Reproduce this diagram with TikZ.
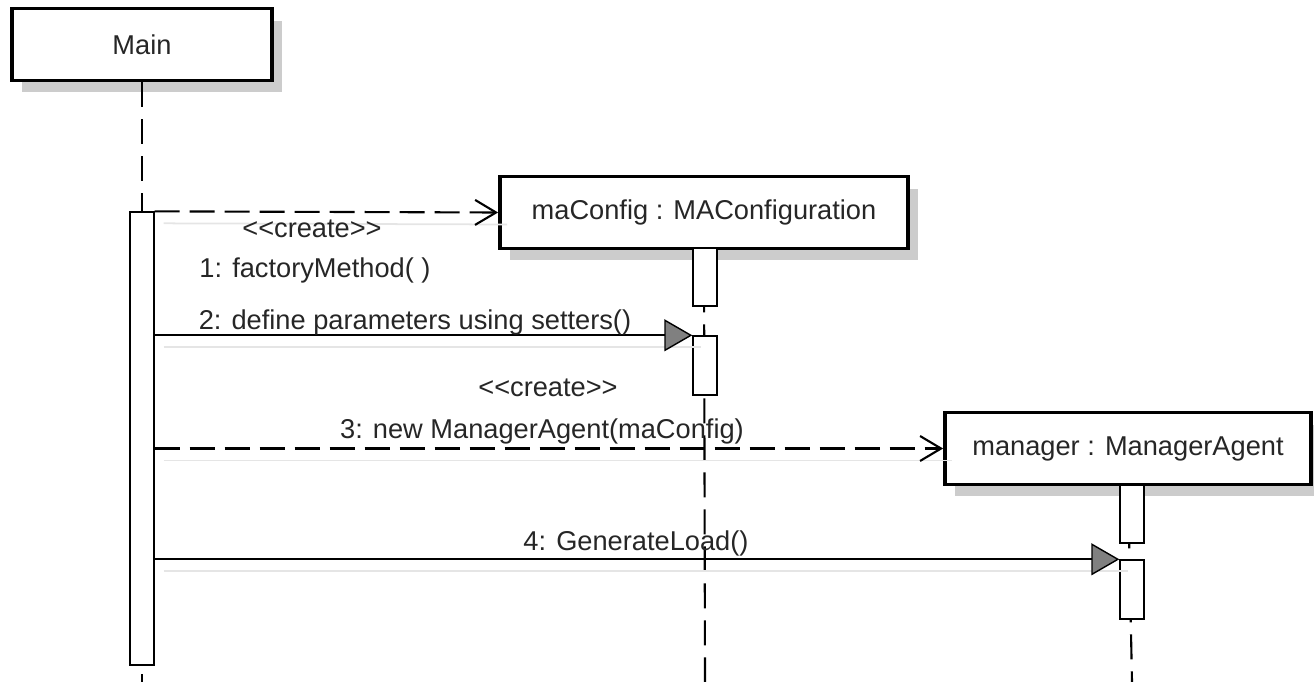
\documentclass[tikz,border=0pt]{standalone}
\usepackage{fontspec}
\setmainfont{Liberation Sans}
\usetikzlibrary{arrows.meta,shadows}
\tikzset{
  objbox/.style={draw, line width=2.2pt, fill=white, minimum height=1.44cm, inner sep=0pt,
    drop shadow={shadow xshift=0.2cm, shadow yshift=-0.24cm, fill=black!20, opacity=1}},
  act/.style={draw, line width=0.8pt, fill=white, minimum width=0.48cm, inner sep=0pt},
  lifeline/.style={line width=1.2pt, dash pattern=on 0.5cm off 0.24cm},
  msgshadow/.style={preaction={draw=black!10, line width=1pt, solid, -, transform canvas={shift={(0.18cm,-0.24cm)}}}},
  create/.style={msgshadow, line width=1.2pt, dash pattern=on 0.5cm off 0.2cm,
    -{Straight Barb[length=0.42cm, width=0.5cm]}},
  call/.style={msgshadow, line width=1pt,
    -{Triangle[length=0.56cm, width=0.64cm, fill=black!50, line width=0.8pt]}},
  lbl/.style={text=black!85}
}
\newcommand{\stereo}[1]{<\kern0pt<#1>\kern0pt>}
\begin{document}
\begin{tikzpicture}[x=0.02cm, y=-0.02cm, font=\fontsize{15.5}{18}\selectfont]
\useasboundingbox (0,0) rectangle (1314,682);
\clip (0,0) rectangle (1314,682);

% objects
\node[objbox, minimum width=5.2cm, lbl] (main) at (142,44.5) {Main};
\node[objbox, minimum width=8.16cm, lbl] (cfg) at (704,212.5) {maConfig : MAConfiguration};
\node[objbox, minimum width=7.32cm, lbl] (mgr) at (1128,448.5) {manager : ManagerAgent};

% lifelines
\coordinate (mainend) at (142,682);
\coordinate (cfgend) at (705,682);
\coordinate (mgrend) at (1132,682);
\draw[lifeline] (main.south) -- (mainend);
\draw[lifeline] (cfg.south) -- (cfgend);
\draw[lifeline] (mgr.south) -- (mgrend);

% activations
\node[act, minimum height=9.06cm] (mainact) at (142,438.5) {};
\node[act, minimum height=1.16cm] (cfgact1) at (705,277) {};
\node[act, minimum height=1.18cm] (cfgact2) at (705,365.5) {};
\node[act, minimum height=1.16cm] (mgract1) at (1132,514) {};
\node[act, minimum height=1.18cm] (mgract2) at (1132,589.5) {};

% messages
\draw[create] (mainact.north east) -- (cfg.west);
\draw[call] (mainact.east |- cfgact2.north west) -- (cfgact2.north west);
\draw[create] (mainact.east |- mgr.west) -- (mgr.west);
\draw[call] (mainact.east |- mgract2.north west) -- (mgract2.north west);

% labels
\node[lbl] (st1) at (312,229) {\stereo{create}};
\node[lbl] (m1) at (315,270) {1: factoryMethod( )};
\node[lbl] (m2) at (415,322) {2: define parameters using setters()};
\node[lbl] (st3) at (548,388) {\stereo{create}};
\node[lbl] (m3) at (542,431) {3: new ManagerAgent(maConfig)};
\node[lbl] (m4) at (636,543) {4: GenerateLoad()};
\end{tikzpicture}
\end{document}
